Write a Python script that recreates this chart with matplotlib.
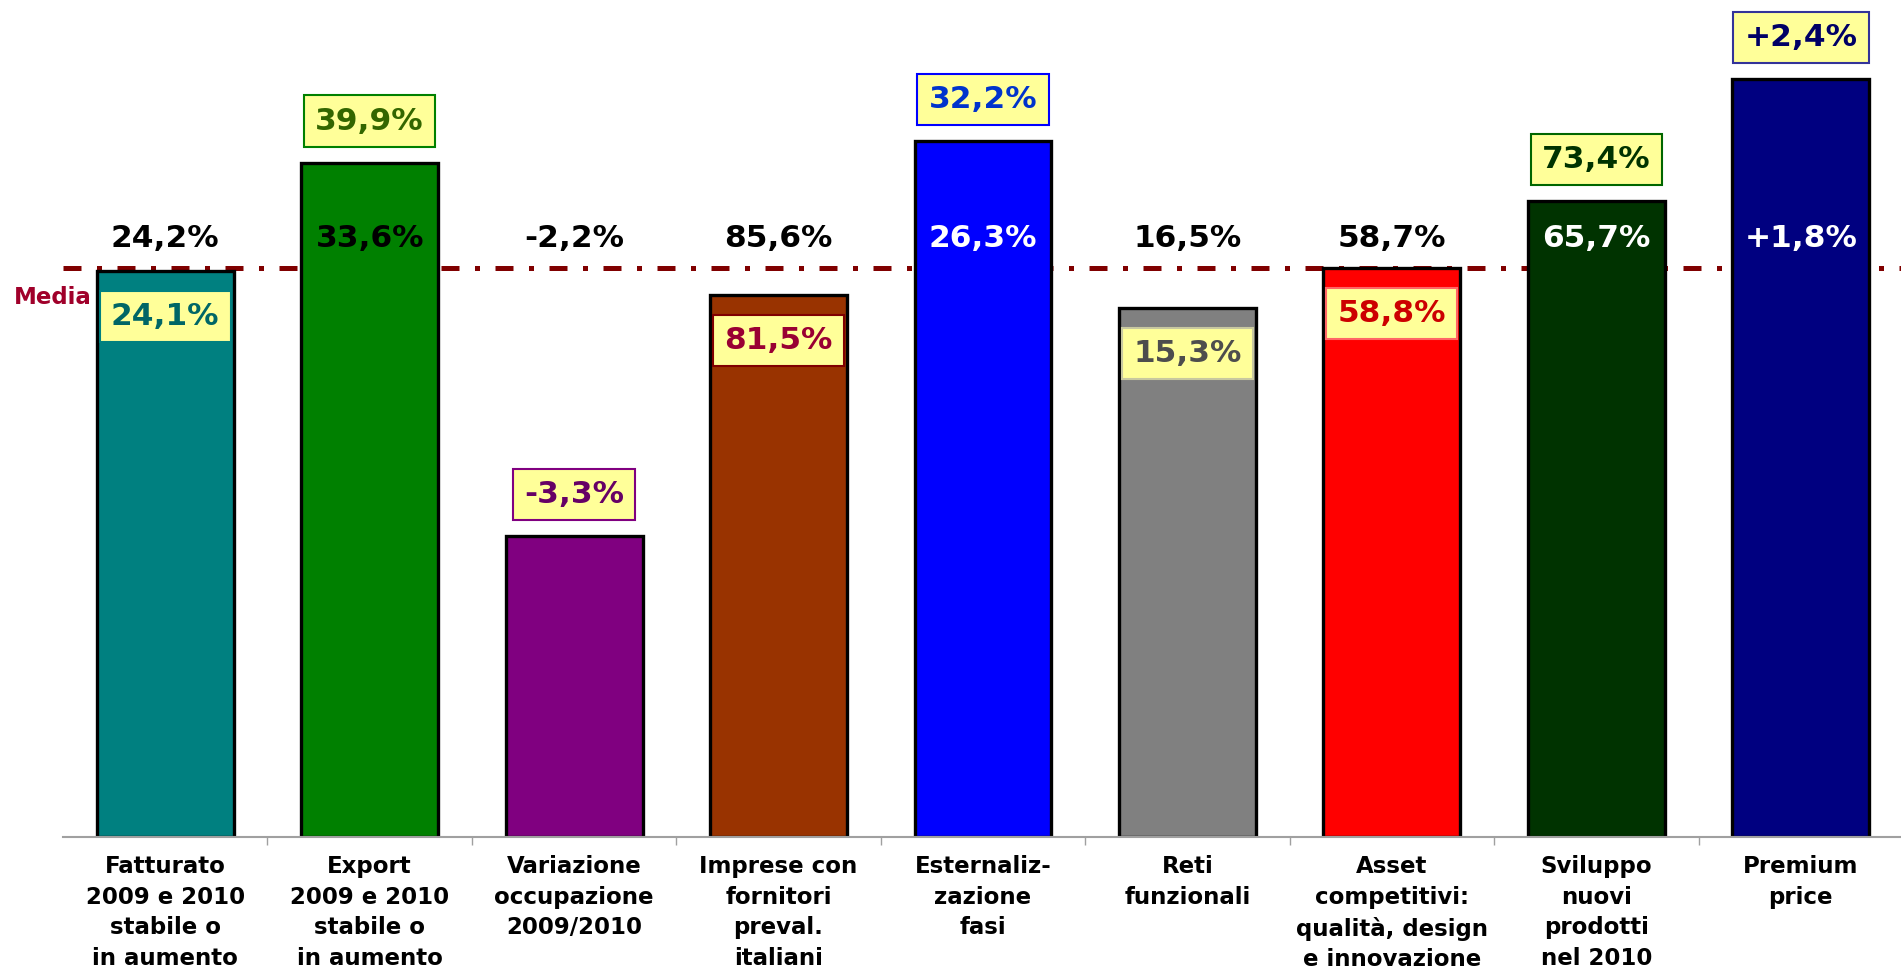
import matplotlib.pyplot as plt
from matplotlib.ticker import FixedLocator

# categorie e valori
categories = [
    'Fatturato\n2009 e 2010\nstabile o\nin aumento',
    'Export\n2009 e 2010\nstabile o\nin aumento',
    'Variazione\noccupazione\n2009/2010',
    'Imprese con\nfornitori\npreval.\nitaliani',
    'Esternaliz-\nzazione\nfasi',
    'Reti\nfunzionali',
    'Asset\ncompetitivi:\nqualità, design\ne innovazione',
    'Sviluppo\nnuovi\nprodotti\nnel 2010',
    'Premium\nprice',
]
media = [24.2, 33.6, -2.2, 85.6, 26.3, 16.5, 58.7, 65.7, 1.8]
gruppo = [24.1, 39.9, -3.3, 81.5, 32.2, 15.3, 58.8, 73.4, 2.4]
indice = [0.995, 1.185, 0.529, 0.953, 1.223, 0.930, 1.000, 1.118, 1.332]
show_plus = [False, False, False, False, False, False, False, False, True]

bar_colors = ['#008080', '#008000', '#800080', '#993300', '#0000FF',
              '#808080', '#FF0000', '#003300', '#000080']
box_text = ['#006666', '#336600', '#660066', '#990033', '#0033CC',
            '#4D4D4D', '#CC0000', '#003300', '#000066']
box_edge = ['#008080', '#008000', '#800080', '#800000', '#0000FF',
            '#C8C8A0', '#FF6666', '#006600', '#333399']
box_inside = [True, False, False, True, False, True, True, False, False]
media_color = ['black', 'black', 'black', 'black', 'white',
               'black', 'black', 'white', 'white']


def fmt(v, plus):
    s = f'{v:.1f}'.replace('.', ',') + '%'
    if plus and v > 0:
        s = '+' + s
    return s


W, H = 1901, 973
fig = plt.figure(figsize=(W / 100, H / 100), dpi=100)
ax = fig.add_axes([63 / W, 136 / H, 1840 / W, 837 / H])
ax.set_xlim(-0.5, 8.5)
ax.set_ylim(0, 837 / 569)

x = list(range(len(categories)))

# linea della media
ax.axhline(1.0, color='#800000', lw=3.6, dashes=(3.6, 3.1, 1, 3.1),
           dash_capstyle='butt', zorder=1)
fig.text(14 / W, 1 - 297 / H, 'Media', color='#A0002A', fontsize=16.5,
         fontweight='bold', ha='left', va='center')

ax.bar(x, indice, width=0.67, color=bar_colors, edgecolor='black',
       linewidth=2.4, zorder=2)

for i in x:
    # valore medio
    ax.text(i, 1.052, fmt(media[i], show_plus[i]), ha='center', va='center',
            fontsize=22.5, fontweight='bold', color=media_color[i], zorder=4)
    # valore del gruppo nel riquadro giallo
    if box_inside[i]:
        yb = indice[i] - 0.08
    else:
        yb = indice[i] + 0.073
    ax.text(i, yb, fmt(gruppo[i], show_plus[i]), ha='center', va='center',
            fontsize=22.5, fontweight='bold', color=box_text[i], zorder=5,
            bbox=dict(boxstyle='square,pad=0.36', facecolor='#FFFF99',
                      edgecolor=box_edge[i], linewidth=1.5))

for s in ['top', 'right', 'left']:
    ax.spines[s].set_visible(False)
ax.spines['bottom'].set_color('#A0A0A0')
ax.spines['bottom'].set_linewidth(1.5)
ax.set_yticks([])

ax.set_xticks(x)
ax.set_xticklabels(categories, fontsize=16.5, fontweight='bold',
                   linespacing=1.42, multialignment='center')
ax.tick_params(axis='x', which='major', length=0, pad=13)
ax.xaxis.set_minor_locator(FixedLocator([i + 0.5 for i in x[:-1]]))
ax.tick_params(axis='x', which='minor', length=6, color='#A0A0A0', width=1)

fig.savefig('out.png', dpi=100)
